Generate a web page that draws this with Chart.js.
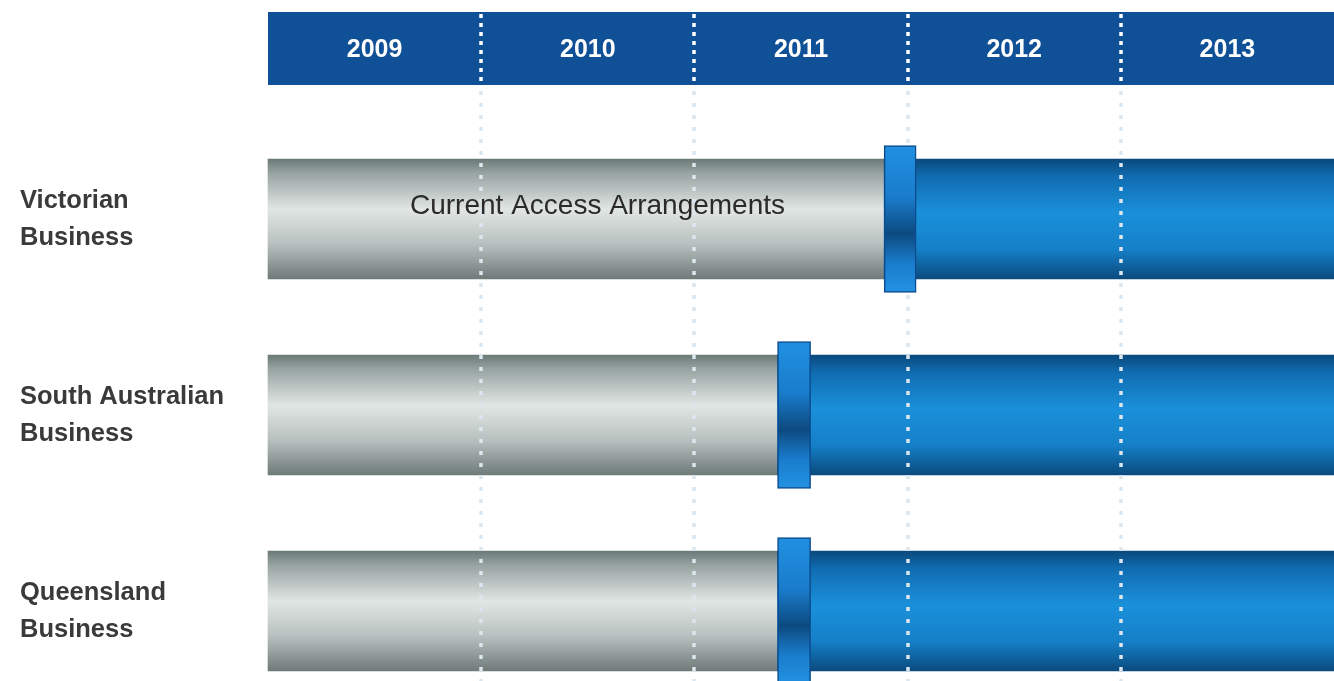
<!DOCTYPE html>
<html>
<head>
<meta charset="utf-8">
<title>Access arrangements timeline</title>
<script src="https://cdn.jsdelivr.net/npm/chart.js@4.4.1/dist/chart.umd.min.js"></script>
<style>
  html, body { margin: 0; padding: 0; background: #fff; }
  #wrap { position: relative; width: 1334px; height: 681px; }
</style>
</head>
<body>
<div id="wrap"><canvas id="timeline" width="1334" height="681"></canvas></div>
<script>
// rows, years and the point where each business moves off the current arrangements
const regions = [['Victorian', 'Business'], ['South Australian', 'Business'], ['Queensland', 'Business']];
const years = [2009, 2010, 2011, 2012, 2013];
const timelineEnd = 2014;
const currentStart = [2009, 2009, 2009];
const changeover = [2011.89, 2011.39, 2011.39];
const collarEnd = [2012.04, 2011.545, 2011.545];
const currentLabel = 'Current Access Arrangements';

const FONT = "'Liberation Sans', Arial, Helvetica, sans-serif";
const PIPE = 120;
const COLLAR = 147;
const HEADER_TOP = 12;
const HEADER_BOTTOM = 85;

const grayStops = [[0, '#6b7a77'], [0.12, '#98a4a2'], [0.42, '#e1e6e4'], [0.7, '#b9c2c0'], [1, '#6f7b79']];
const blueStops = [[0, '#0a497c'], [0.15, '#106db2'], [0.45, '#1a90da'], [0.75, '#1580c8'], [1, '#0a4a7e']];
const collarStops = [[0, '#2190e0'], [0.35, '#1a7ccc'], [0.6, '#0c4a80'], [0.8, '#1a7ccc'], [1, '#2292e2']];

// vertical gradient so each bar reads as a pipe
function cylinder(stops, thickness) {
  return (ctx) => {
    const y = ctx.chart.scales.y;
    if (ctx.type !== 'data' || !y) return stops[2][1];
    const mid = y.getPixelForValue(ctx.dataIndex);
    if (!isFinite(mid)) return stops[2][1];
    const g = ctx.chart.ctx.createLinearGradient(0, mid - thickness / 2, 0, mid + thickness / 2);
    stops.forEach(([o, c]) => g.addColorStop(o, c));
    return g;
  };
}

const timelineDecor = {
  id: 'timelineDecor',
  beforeDraw(chart) {
    const { ctx, chartArea } = chart;
    ctx.save();
    ctx.fillStyle = '#0f5096';
    ctx.fillRect(chartArea.left, HEADER_TOP, chartArea.right - chartArea.left, HEADER_BOTTOM - HEADER_TOP);
    ctx.restore();
  },
  afterDatasetDraw(chart, args) {
    if (args.index !== 1) return;
    const { ctx } = chart;
    const x = chart.scales.x;
    ctx.save();
    ctx.lineWidth = 3.5;
    years.slice(1).forEach((v) => {
      const px = Math.round(x.getPixelForValue(v));
      ctx.strokeStyle = '#ffffff';
      ctx.setLineDash([4, 5]);
      ctx.beginPath();
      ctx.moveTo(px, HEADER_TOP + 2);
      ctx.lineTo(px, HEADER_BOTTOM);
      ctx.stroke();
      ctx.strokeStyle = '#dbe6ef';
      ctx.setLineDash([4, 8]);
      ctx.beginPath();
      ctx.moveTo(px, HEADER_BOTTOM + 6);
      ctx.lineTo(px, chart.height);
      ctx.stroke();
    });
    ctx.restore();
  },
  afterDatasetsDraw(chart) {
    const { ctx } = chart;
    const bar = chart.getDatasetMeta(0).data[0];
    ctx.save();
    ctx.font = `28px ${FONT}`;
    ctx.fillStyle = '#2a2a2a';
    ctx.textAlign = 'left';
    ctx.textBaseline = 'middle';
    ctx.fillText(chart.data.datasets[0].label, bar.base + 142, bar.y - 13);
    ctx.restore();
  }
};

new Chart(document.getElementById('timeline'), {
  type: 'bar',
  data: {
    labels: regions,
    datasets: [
      {
        label: currentLabel,
        data: regions.map((_, i) => [currentStart[i], changeover[i]]),
        backgroundColor: cylinder(grayStops, PIPE),
        barThickness: PIPE,
        order: 3
      },
      {
        label: 'New arrangements',
        data: regions.map((_, i) => [changeover[i], timelineEnd]),
        backgroundColor: cylinder(blueStops, PIPE),
        barThickness: PIPE,
        order: 2
      },
      {
        label: 'Changeover',
        data: regions.map((_, i) => [changeover[i], collarEnd[i]]),
        backgroundColor: cylinder(collarStops, COLLAR),
        borderColor: '#0b4a8c',
        borderWidth: 1.5,
        borderSkipped: false,
        barThickness: COLLAR,
        order: 1
      }
    ]
  },
  options: {
    indexAxis: 'y',
    responsive: false,
    animation: false,
    layout: { padding: { left: 20, top: 0, right: 0, bottom: 70 } },
    datasets: { bar: { grouped: false, clip: false } },
    plugins: { legend: { display: false }, tooltip: { enabled: false } },
    scales: {
      x: {
        type: 'linear',
        position: 'top',
        min: years[0],
        max: timelineEnd,
        grid: { display: false, drawTicks: false },
        border: { display: false },
        ticks: {
          stepSize: 1,
          autoSkip: false,
          maxRotation: 0,
          padding: 154,
          labelOffset: 106.6,
          color: '#ffffff',
          font: { family: FONT, size: 25, weight: 'bold' },
          callback: (v) => (v < timelineEnd ? String(v) : '')
        },
        // fixed header height; the tick padding must not eat into the sides
        afterFit: (s) => {
          s.height = 219;
          s.paddingLeft = 0;
          s.paddingRight = 0;
        }
      },
      y: {
        type: 'category',
        offset: false,
        grid: { display: false },
        border: { display: false },
        ticks: {
          crossAlign: 'far',
          color: '#3a3a3a',
          font: { family: FONT, size: 25.5, weight: 'bold', lineHeight: 1.45 }
        },
        afterFit: (s) => { s.width = 248; }
      }
    }
  },
  plugins: [timelineDecor]
});
</script>
</body>
</html>
